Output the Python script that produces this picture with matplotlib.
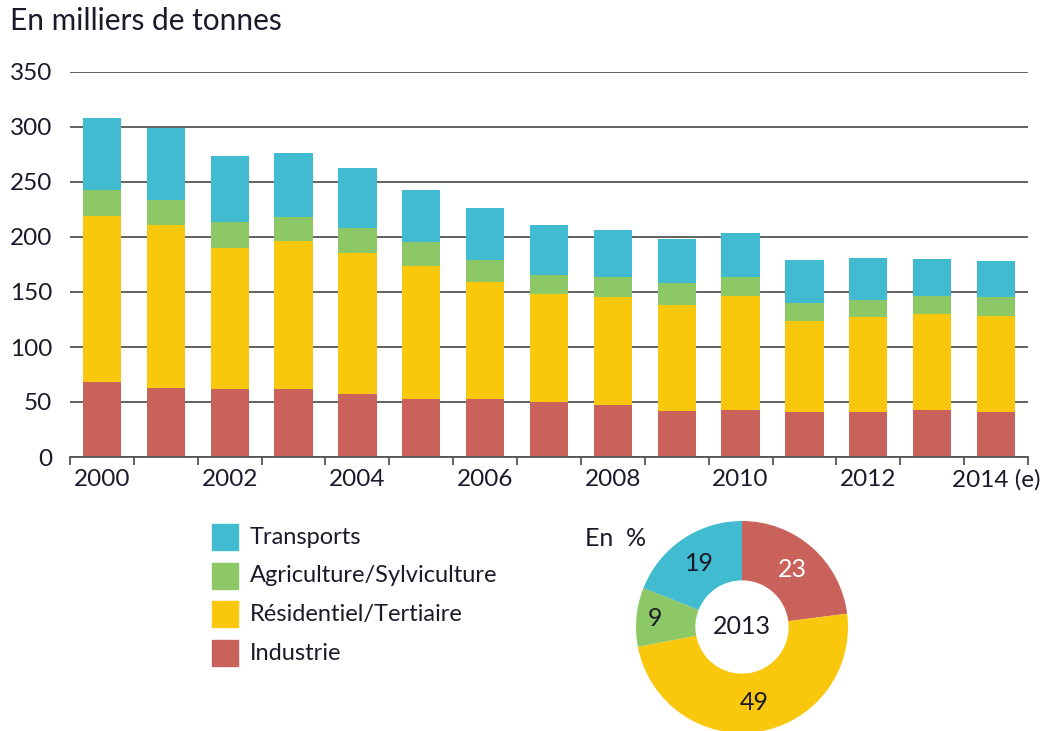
import matplotlib
matplotlib.use("Agg")
import matplotlib.pyplot as plt
import numpy as np

years = ["2000", "2001", "2002", "2003", "2004", "2005", "2006", "2007",
         "2008", "2009", "2010", "2011", "2012", "2013", "2014"]
tick_labels = ["2000", "2002", "2004", "2006", "2008", "2010", "2012", "2014 (e)"]
industrie = [68, 63, 62, 62, 57, 53, 53, 50, 47, 42, 43, 41, 41, 43, 41]
residentiel = [151, 148, 128, 134, 128, 121, 106, 98, 98, 96, 103, 83, 86, 87, 87]
agriculture = [24, 23, 24, 22, 23, 21, 20, 17, 19, 20, 18, 16, 16, 16, 17]
transports = [65, 65, 60, 58, 55, 48, 47, 46, 42, 40, 40, 39, 38, 34, 33]

donut_labels = ["Industrie", "Résidentiel/Tertiaire", "Agriculture/Sylviculture", "Transports"]
donut_values = [23, 49, 9, 19]

C_TR = "#41BBCF"
C_AG = "#8DC866"
C_RE = "#F9C70C"
C_IN = "#C9625A"
TXT = "#1A1A2A"
FONT = ["Lato", "DejaVu Sans"]
plt.rcParams['font.family'] = FONT

fig = plt.figure(figsize=(10.53, 7.31), dpi=100)
ax = fig.add_axes([70/1053, (731-457)/731, (1028-70)/1053, (457-72)/731])

x = np.arange(len(years))
w = 0.6
b1 = np.array(industrie)
b2 = b1 + np.array(residentiel)
b3 = b2 + np.array(agriculture)
ax.bar(x, industrie, w, color=C_IN, zorder=3)
ax.bar(x, residentiel, w, bottom=b1, color=C_RE, zorder=3)
ax.bar(x, agriculture, w, bottom=b2, color=C_AG, zorder=3)
ax.bar(x, transports, w, bottom=b3, color=C_TR, zorder=3)

ax.set_xlim(-0.5, len(years) - 0.5)
ax.set_ylim(0, 350)
ax.set_yticks(np.arange(0, 351, 50))
ax.yaxis.grid(True, color="#555555", linewidth=1.3, zorder=0)
ax.tick_params(axis='y', length=0, pad=13, labelsize=17.5, labelcolor=TXT)
for s in ["top", "right", "left"]:
    ax.spines[s].set_visible(False)
ax.spines["bottom"].set_color("#555555")
ax.spines["bottom"].set_linewidth(1.3)
ax.spines["bottom"].set_zorder(4)

ax.set_xticks(np.arange(-0.5, len(years), 1.0), minor=False)
ax.set_xticklabels([])
ax.tick_params(axis='x', which='major', length=6, width=1.3, color="#555555")
ax.set_xticks(x[::2], minor=True)
ax.set_xticklabels(tick_labels, minor=True)
ax.tick_params(axis='x', which='minor', length=0, pad=9, labelsize=17.5, labelcolor=TXT)

fig.text(10/1053, 1 - 21/731, "En milliers de tonnes", fontsize=21.5, color=TXT,
         ha="left", va="center")

# legend
leg_items = [("Transports", C_TR), ("Agriculture/Sylviculture", C_AG),
             ("Résidentiel/Tertiaire", C_RE), ("Industrie", C_IN)]
leg_y = [537, 576, 614, 653]
for (lab, col), yy in zip(leg_items, leg_y):
    fig.patches.append(plt.Rectangle((212/1053, 1 - (yy + 13)/731), 26/1053, 26/731,
                                     transform=fig.transFigure, color=col))
    fig.text(250/1053, 1 - yy/731, lab, fontsize=17, color=TXT, ha="left", va="center")

# donut
axd = fig.add_axes([636/1053, (731-733)/731, 212/1053, 212/731])
axd.set_aspect("equal")
axd.pie(donut_values, colors=[C_IN, C_RE, C_AG, C_TR], startangle=90, counterclock=False,
        radius=1.0, wedgeprops=dict(width=0.56, edgecolor="none"))
axd.set_xlim(-1, 1)
axd.set_ylim(-1, 1)
axd.axis("off")
axd.text(0, 0, "2013", ha="center", va="center", fontsize=18, color=TXT)
# value labels at mid-ring
cum = 0
rmid = 0.72
label_colors = ["white", TXT, TXT, TXT]
for v, lc in zip(donut_values, label_colors):
    mid = cum + v / 2
    ang = np.deg2rad(90 - mid / 100 * 360)
    r = 0.82 if v < 10 else rmid
    axd.text(r * np.cos(ang), r * np.sin(ang), str(v), ha="center", va="center",
             fontsize=18, color=lc)
    cum += v

fig.text(585/1053, 1 - 539/731, "En  %", fontsize=18, color=TXT, ha="left", va="center")

fig.savefig("out.png", dpi=100)
